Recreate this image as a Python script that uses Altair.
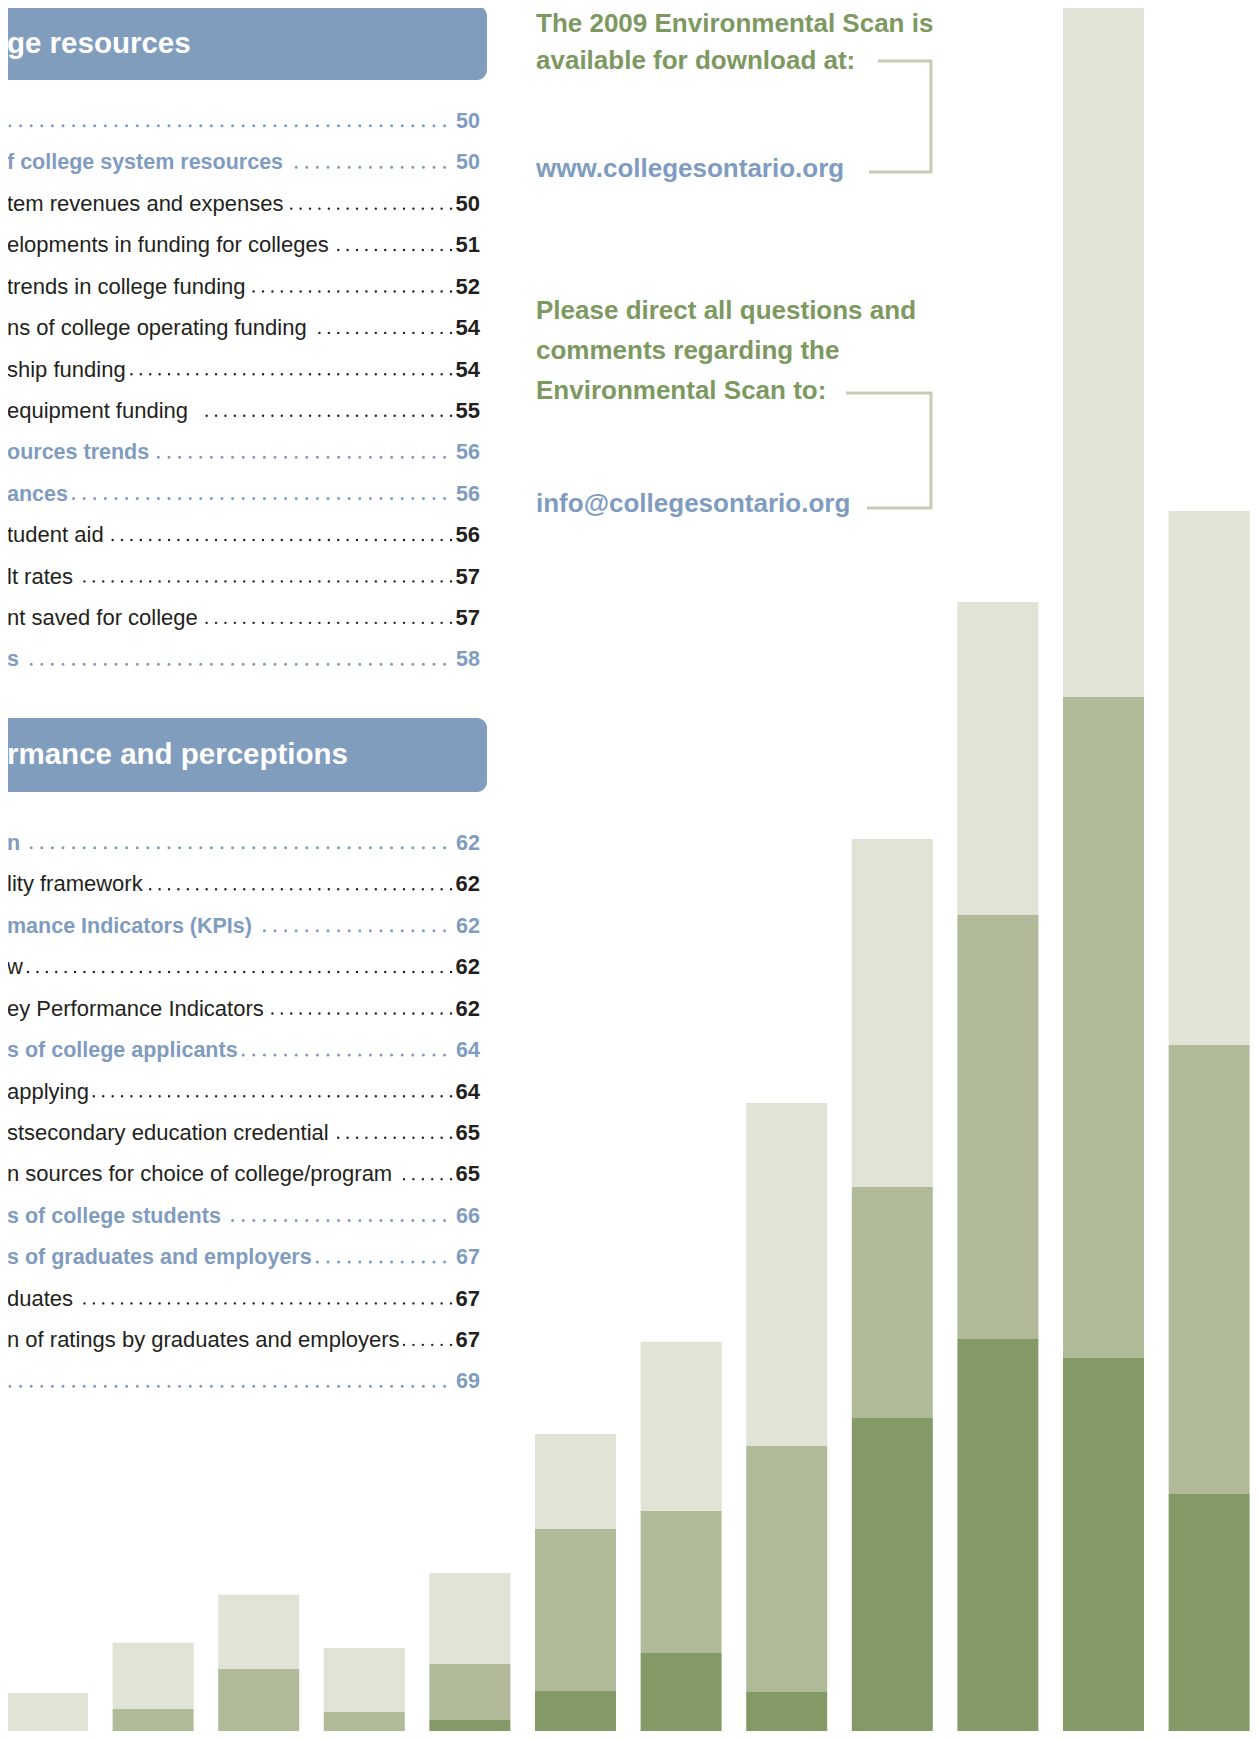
import math
import altair as alt
import pandas as pd

# ---------------- data ----------------
bar_ids = [f"B{i:02d}" for i in range(1, 13)]
# heights in % of the page height, bottom -> top
dark_vals = [0, 0, 0, 0, 1.09, 2.76, 4.95, 2.70, 18.46, 23.00, 21.91, 14.09]
mid_vals = [0, 1.73, 4.03, 1.55, 3.22, 9.32, 8.17, 14.15, 13.28, 24.38, 38.01, 25.82]
light_vals = [2.65, 3.80, 4.26, 3.68, 5.23, 5.46, 9.72, 19.72, 20.01, 18.00, 39.79, 30.71]
tiers = ["dark", "mid", "light"]
tier_colors = ["#839966", "#b0b998", "#e1e3d6"]

section_titles = ["ge resources", "rmance and perceptions"]

toc1_labels = ["", "f college system resources", "tem revenues and expenses",
               "elopments in funding for colleges", "trends in college funding",
               "ns of college operating funding", "ship funding", " equipment funding",
               "ources trends", "ances", "tudent aid", "lt rates", "nt saved for college", "s"]
toc1_pages = ["50", "50", "50", "51", "52", "54", "54", "55", "56", "56", "56", "57", "57", "58"]
toc1_heading = [1, 1, 0, 0, 0, 0, 0, 0, 1, 1, 0, 0, 0, 1]

toc2_labels = ["n", "lity framework", "mance Indicators (KPIs)", "w", "ey Performance Indicators",
               "s of college applicants", "applying", "stsecondary education credential",
               "n sources for choice of college/program", "s of college students",
               "s of graduates and employers", "duates",
               "n of ratings by graduates and employers", ""]
toc2_pages = ["62", "62", "62", "62", "62", "64", "64", "65", "65", "66", "67", "67", "67", "69"]
toc2_heading = [1, 0, 1, 0, 0, 1, 0, 0, 0, 1, 1, 0, 0, 1]

green_block_1 = ["The 2009 Environmental Scan is", "available for download at:"]
blue_line_1 = "www.collegesontario.org"
green_block_2 = ["Please direct all questions and", "comments regarding the", "Environmental Scan to:"]
blue_line_2 = "info@collegesontario.org"

# ---------------- styles / layout ----------------
FONT = "Liberation Sans"
BLUE = "#7f9cc0"
BOX = "#819dbe"
GREEN = "#7d9961"
BLACK = "#231f20"
BRACKET = "#c6cdb4"
OFF = 8  # page margin
W, H = 1242, 1723

# Arial / Liberation Sans advance widths (1/1000 em)
AR = dict(zip(" ().,/:@0123456789", [278, 333, 333, 278, 278, 278, 278, 1015] + [556] * 10))
AR.update(dict(zip("abcdefghijklmnopqrstuvwxyz",
                   [556, 556, 500, 556, 556, 278, 556, 556, 222, 222, 500, 222, 833, 556, 556, 556,
                    556, 333, 500, 278, 556, 500, 722, 500, 500, 500])))
AR.update({"I": 278, "K": 667, "P": 667})
ARB = dict(zip(" ().,/:@0123456789", [278, 333, 333, 278, 278, 278, 333, 975] + [556] * 10))
ARB.update(dict(zip("abcdefghijklmnopqrstuvwxyz",
                    [556, 611, 556, 611, 556, 333, 611, 611, 278, 278, 556, 278, 889, 611, 611, 611,
                     611, 389, 556, 333, 611, 556, 778, 556, 556, 500])))
ARB.update({"I": 278, "K": 722, "P": 667})


def text_w(s, size, bold):
    tbl = ARB if bold else AR
    return sum(tbl.get(c, 556) for c in s) * size / 1000.0


LABEL_X = -1
NUM_RIGHT = 480 - OFF
LINE = 41.42
BASE0 = [128 - OFF, 850 - OFF]

toc_rows, lead_rows = [], []
for sec, (labels, pages, heads) in enumerate(
        [(toc1_labels, toc1_pages, toc1_heading), (toc2_labels, toc2_pages, toc2_heading)]):
    for i, (lab, pg, hd) in enumerate(zip(labels, pages, heads)):
        bl = BASE0[sec] + i * LINE
        heading = bool(hd)
        size = 21.5 if heading else 22
        lw = text_w(lab, size, heading)
        num_left = NUM_RIGHT - text_w(pg, size, True)
        last_dot = num_left - (11.5 if heading else 4.5)
        sp = 10.6 if heading else 9.4
        first_min = (LABEL_X + lw + (3.5 if heading else 4)) if lab.strip() else -20
        n = math.floor((last_dot - first_min) / sp)
        first = last_dot - n * sp - 0.6  # small overrun so the end dot is drawn
        toc_rows.append(dict(label=lab, page=pg, x=LABEL_X, nx=NUM_RIGHT, y=bl,
                             color=BLUE if heading else BLACK, heading=heading))
        lead_rows.append(dict(x=last_dot, x2=first, y=bl - 2.2, heading=heading))
toc_df = pd.DataFrame(toc_rows)
lead_df = pd.DataFrame(lead_rows)

# bars table
bar_rows = []
for b, d, m, l in zip(bar_ids, dark_vals, mid_vals, light_vals):
    for k, (t, v) in enumerate(zip(tiers, [d, m, l])):
        bar_rows.append(dict(bar=b, tier=t, order=k, value=v))
bar_df = pd.DataFrame(bar_rows)

bars = alt.Chart(bar_df).mark_bar().encode(
    x=alt.X("bar:O", sort=bar_ids, axis=None,
            scale=alt.Scale(range=[-1, 1241.6], paddingInner=0.233, paddingOuter=0, round=False)),
    y=alt.Y("value:Q", stack="zero", axis=None,
            scale=alt.Scale(domain=[0, 100], range=[1739 - OFF, -OFF])),
    color=alt.Color("tier:N", legend=None, scale=alt.Scale(domain=tiers, range=tier_colors)),
    order=alt.Order("order:Q", sort="ascending"),
)


def px(field):
    return alt.X(f"{field}:Q", scale=None, axis=None)


def py(field):
    return alt.Y(f"{field}:Q", scale=None, axis=None)


# header boxes
box_df = pd.DataFrame(dict(x=[-20, -20], x2=[487 - OFF, 487 - OFF],
                           y=[6 - OFF, 718 - OFF], y2=[80 - OFF, 792 - OFF]))
boxes = alt.Chart(box_df).mark_rect(cornerRadius=10, color=BOX).encode(
    x=px("x"), x2="x2", y=py("y"), y2="y2")

head_df = pd.DataFrame(dict(text=section_titles, x=[-1, -1], y=[53 - OFF, 764 - OFF]))
heads = alt.Chart(head_df).mark_text(
    font=FONT, fontSize=29.5, fontWeight="bold", color="white", align="left", baseline="alphabetic"
).encode(x=px("x"), y=py("y"), text="text:N")

# TOC labels
lab_plain = alt.Chart(toc_df[~toc_df.heading]).mark_text(
    font=FONT, fontSize=22, color=BLACK, align="left", baseline="alphabetic"
).encode(x=px("x"), y=py("y"), text="label:N")
lab_head = alt.Chart(toc_df[toc_df.heading]).mark_text(
    font=FONT, fontSize=21.5, fontWeight="bold", color=BLUE, align="left", baseline="alphabetic"
).encode(x=px("x"), y=py("y"), text="label:N")
num_plain = alt.Chart(toc_df[~toc_df.heading]).mark_text(
    font=FONT, fontSize=22, fontWeight="bold", color=BLACK, align="right", baseline="alphabetic"
).encode(x=px("nx"), y=py("y"), text="page:N")
num_head = alt.Chart(toc_df[toc_df.heading]).mark_text(
    font=FONT, fontSize=21.5, fontWeight="bold", color=BLUE, align="right", baseline="alphabetic"
).encode(x=px("nx"), y=py("y"), text="page:N")

lead_plain = alt.Chart(lead_df[~lead_df.heading]).mark_rule(
    color=BLACK, strokeWidth=2.4, strokeCap="round", strokeDash=[0, 9.4]
).encode(x=px("x"), x2="x2", y=py("y"))
lead_head = alt.Chart(lead_df[lead_df.heading]).mark_rule(
    color=BLUE, strokeWidth=3.0, strokeCap="round", strokeDash=[0, 10.6]
).encode(x=px("x"), x2="x2", y=py("y"))

# right-hand text
rt_text = green_block_1 + [blue_line_1] + green_block_2 + [blue_line_2]
rt_y = [32, 69, 177, 319, 359, 399, 512]
rt_col = [GREEN, GREEN, BLUE, GREEN, GREEN, GREEN, BLUE]
rt_df = pd.DataFrame(dict(text=rt_text, x=[536 - OFF] * 7, y=[v - OFF for v in rt_y], color=rt_col))
right_text = alt.Chart(rt_df).mark_text(
    font=FONT, fontSize=26, fontWeight="bold", align="left", baseline="alphabetic"
).encode(x=px("x"), y=py("y"), text="text:N", color=alt.Color("color:N", scale=None))

br_df = pd.DataFrame(dict(
    br=["a"] * 4 + ["b"] * 4,
    seq=[0, 1, 2, 3] * 2,
    x=[v - OFF for v in [878, 931, 931, 869, 846, 931, 931, 867]],
    y=[v - OFF for v in [61, 61, 172, 172, 393, 393, 508, 508]],
))
brackets = alt.Chart(br_df).mark_line(color=BRACKET, strokeWidth=3, strokeJoin="miter").encode(
    x=px("x"), y=py("y"), detail="br:N", order="seq:Q")

chart = alt.layer(
    bars, boxes, heads, lead_plain, lead_head, lab_plain, lab_head, num_plain, num_head,
    right_text, brackets
).resolve_scale(
    x="independent", y="independent", color="independent"
).properties(
    width=W, height=H, autosize=alt.AutoSizeParams(type="none"), padding=0
).configure_view(stroke=None)

chart.save("out.html", embed_options={"renderer": "svg", "actions": False})
